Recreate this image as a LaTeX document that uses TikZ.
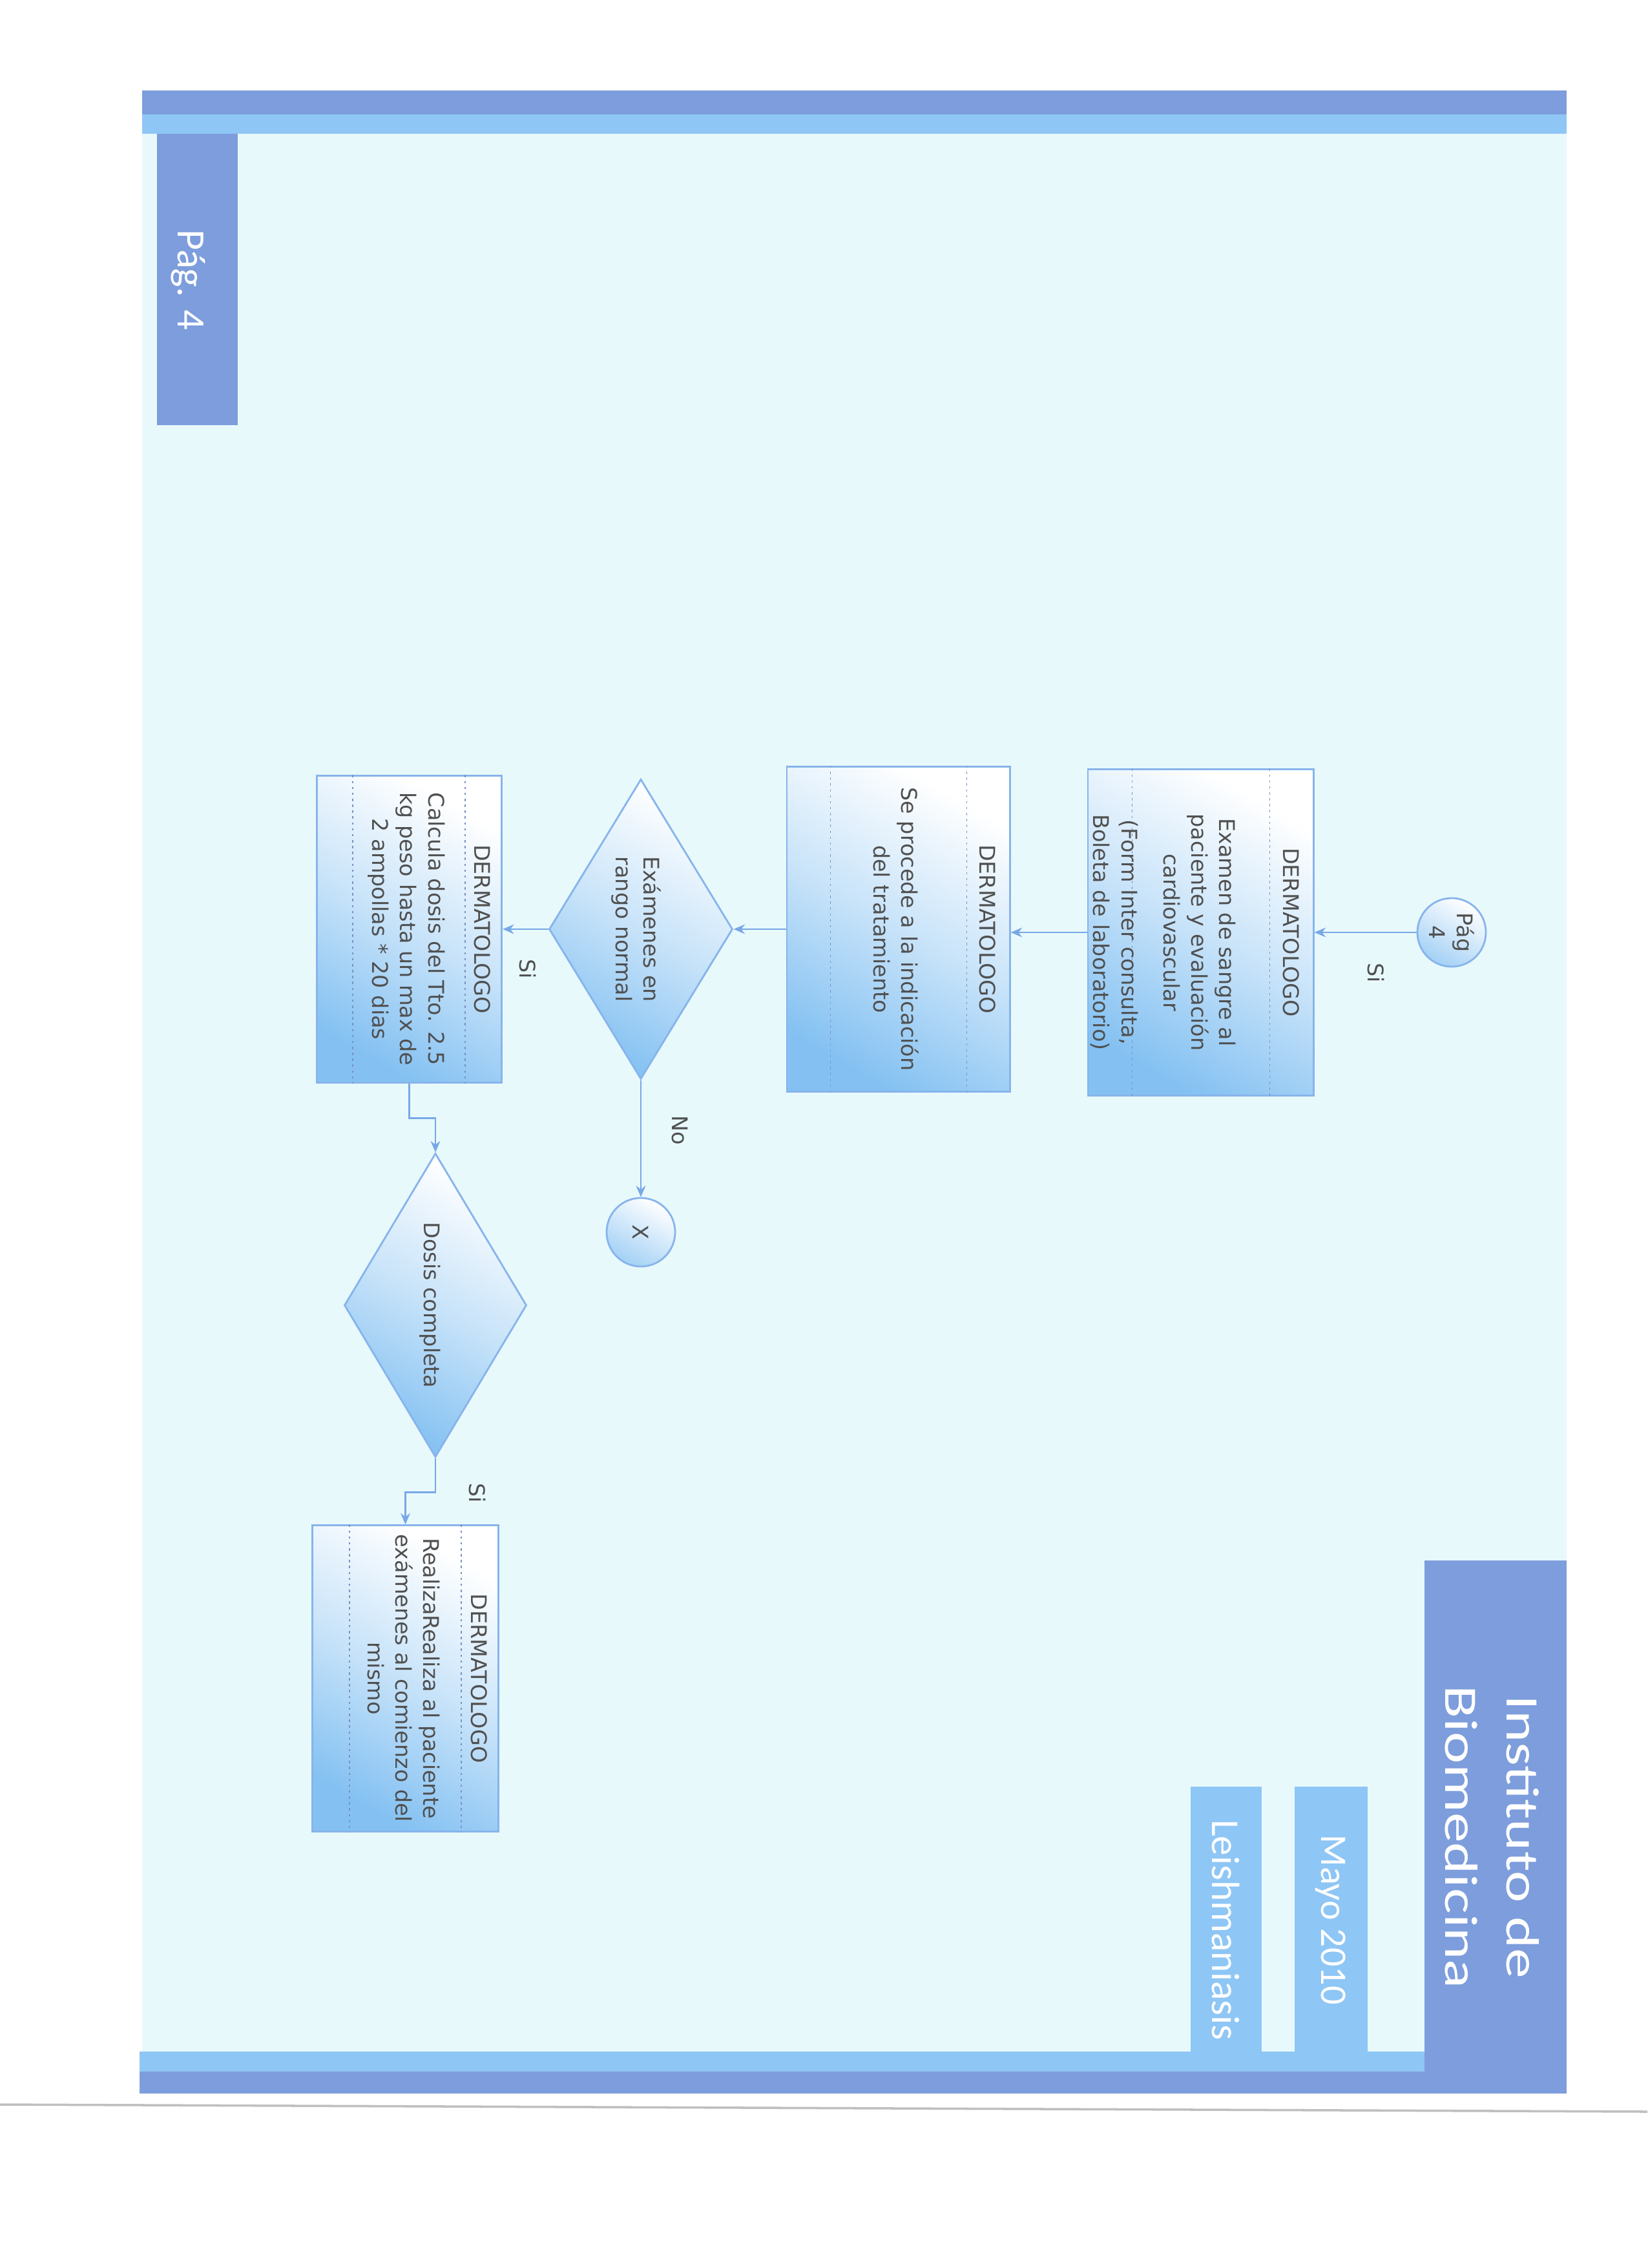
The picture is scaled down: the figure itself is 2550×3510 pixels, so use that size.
\documentclass[tikz,border=0pt]{standalone}
\usepackage{fontspec}
\setmainfont{DejaVu Sans}
\newfontfamily\titlefont{Carlito}
\newfontfamily\widetitlefont{Carlito}[FakeStretch=1.3]
\usetikzlibrary{shapes.geometric,arrows.meta}
\definecolor{pagecyan}{RGB}{232,249,252}
\definecolor{banddark}{RGB}{125,157,220}
\definecolor{bandlight}{RGB}{142,198,245}
\definecolor{boxblue}{RGB}{132,193,242}
\definecolor{boxborder}{RGB}{135,180,235}
\definecolor{flowblue}{RGB}{120,168,230}
\definecolor{secgray}{RGB}{120,145,195}
\definecolor{textgray}{RGB}{80,80,80}
\newcommand{\flowfont}{\fontsize{9.5pt}{12.3pt}\selectfont}
\tikzset{
  flowbox/.style={draw=boxborder, line width=0.8pt, rectangle, inner sep=0pt,
    top color=white, bottom color=boxblue, middle color=white!55!boxblue, shading angle=-30},
  decision/.style={draw=boxborder, line width=0.8pt, diamond, inner sep=0pt,
    top color=white, bottom color=boxblue, middle color=white!55!boxblue, shading angle=-30},
  pagecirc/.style={draw=boxborder, line width=0.8pt, circle, inner sep=0pt, minimum size=1.06cm,
    top color=white, bottom color=boxblue!75, shading angle=-30},
  secline/.style={draw=secgray, line width=0.5pt, dash pattern=on 1pt off 1.6pt},
  flowline/.style={draw=flowblue, line width=0.7pt, -{Stealth[length=5pt,width=4.2pt]}},
  rtext/.style={rotate=-90, text=textgray, font=\flowfont, align=center, inner sep=0pt},
  ttext/.style={rotate=-90, text=white, align=center, inner sep=0pt}
}
\begin{document}
\begin{tikzpicture}[x=0.01cm,y=-0.01cm]
\useasboundingbox (0,0) rectangle (2550,3510);
\fill[white] (0,0) rectangle (2550,3510);
% page background and frame bands
\fill[pagecyan] (220,140) rectangle (2425,3240);
\fill[banddark] (220,140) rectangle (2425,177);
\fill[bandlight] (220,177) rectangle (2425,207);
\fill[bandlight] (216,3175) rectangle (2205,3206);
\fill[banddark] (216,3206) rectangle (2425,3240);
\fill[banddark] (2205,2415) rectangle (2425,3240);
\fill[bandlight] (2004,2765) rectangle (2117,3206);
\fill[bandlight] (1843,2765) rectangle (1953,3206);
\fill[banddark] (243,207) rectangle (368,658);
\draw[black!25, line width=1pt] (0,3257) -- (2550,3268);
% header texts
\node[ttext, font=\titlefont\fontsize{17.6pt}{20pt}\selectfont] (pagnum) at (291,433) {Pág. 4};
\node[ttext, font=\widetitlefont\fontsize{20.5pt}{27pt}\selectfont] (inst) at (2310,2843) {Instituto de\\Biomedicina};
\node[ttext, font=\titlefont\fontsize{16.5pt}{20pt}\selectfont] (fecha) at (2060,2971) {Mayo 2010};
\node[ttext, font=\titlefont\fontsize{17.4pt}{20pt}\selectfont] (tema) at (1897,2987) {Leishmaniasis};
% flowchart shapes
\node[pagecirc] (pag) at (2247,1443) {};
\node[rtext] at (pag) {Pág\\4};
\node[flowbox, minimum width=3.49cm, minimum height=5.04cm] (b1) at (1858.5,1443) {};
\node[flowbox, minimum width=3.45cm, minimum height=5.03cm] (b2) at (1390.5,1438) {};
\node[decision, minimum width=2.84cm, minimum height=4.64cm] (d1) at (992,1438) {};
\node[pagecirc] (xend) at (992,1907) {};
\node[flowbox, minimum width=2.86cm, minimum height=4.74cm] (b3) at (633.5,1438) {};
\node[decision, minimum width=2.82cm, minimum height=4.70cm] (d2) at (674,2020) {};
\node[flowbox, minimum width=2.88cm, minimum height=4.73cm] (b4) at (627.5,2597.5) {};
% section lines inside boxes
\draw[secline] ([xshift=-0.69cm]b1.north east) -- ([xshift=-0.69cm]b1.south east);
\draw[secline] ([xshift=0.70cm]b1.north west) -- ([xshift=0.70cm]b1.south west);
\draw[secline] ([xshift=-0.68cm]b2.north east) -- ([xshift=-0.68cm]b2.south east);
\draw[secline] ([xshift=0.69cm]b2.north west) -- ([xshift=0.69cm]b2.south west);
\draw[secline] ([xshift=-0.58cm]b3.north east) -- ([xshift=-0.58cm]b3.south east);
\draw[secline] ([xshift=0.57cm]b3.north west) -- ([xshift=0.57cm]b3.south west);
\draw[secline] ([xshift=-0.59cm]b4.north east) -- ([xshift=-0.59cm]b4.south east);
\draw[secline] ([xshift=0.59cm]b4.north west) -- ([xshift=0.59cm]b4.south west);
% texts in shapes
\node[rtext] (t1a) at (1998.5,1443) {DERMATOLOGO};
\node[rtext] (t1b) at (1857,1443) {Examen de sangre al\\paciente y evaluación\\cardiovascular};
\node[rtext] (t1c) at (1725,1443) {(Form Inter consulta,\\Boleta de laboratorio)};
\node[rtext] (t2a) at (1529,1438) {DERMATOLOGO};
\node[rtext] (t2b) at (1387,1438) {Se procede a la indicación\\del tratamiento};
\node[rtext] (t3) at (985,1438) {Exámenes en\\rango normal};
\node[rtext] (t4) at (xend) {X};
\node[rtext] (t5a) at (747,1438) {DERMATOLOGO};
\node[rtext] (t5b) at (629,1438) {Calcula dosis del Tto. 2.5\\kg peso hasta un max de\\2 ampollas * 20 dias};
\node[rtext] (t6) at (666,2020) {Dosis completa};
\node[rtext] (t7a) at (742,2597.5) {DERMATOLOGO};
\node[rtext] (t7b) at (625,2597.5) {RealizaRealiza al paciente\\exámenes al comienzo del\\mismo};
% labels
\node[rtext] (l1) at (2130,1506) {Si};
\node[rtext] (l2) at (1052,1749) {No};
\node[rtext] (l3) at (817,1500) {Si};
\node[rtext] (l4) at (739,2311) {Si};
% connectors
\draw[flowline] (pag.west) -- (b1.east |- pag.west);
\draw[flowline] (b1.west) -- (b2.east |- b1.west);
\draw[flowline] (b2.west) -- (d1.east);
\draw[flowline] (d1.south) -- (xend.north);
\draw[flowline] (d1.west) -- (b3.east);
\draw[flowline] (b3.south) -- ++(0,54) -| (d2.north);
\draw[flowline] (d2.south) -- ++(0,53) -| (b4.north);
\end{tikzpicture}
\end{document}
